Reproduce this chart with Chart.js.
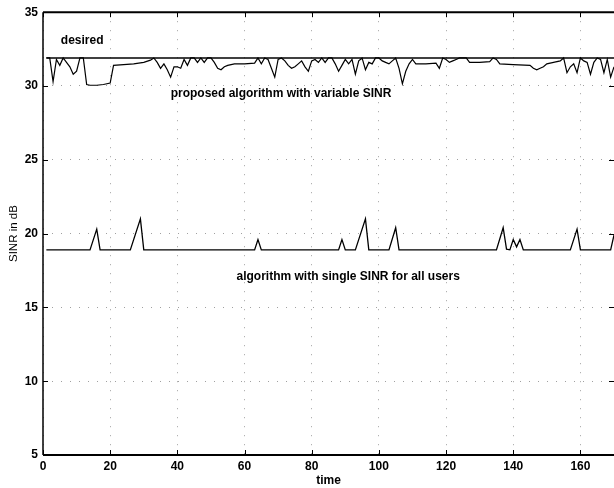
<!DOCTYPE html>
<html>
<head>
<meta charset="utf-8">
<script src="https://cdn.jsdelivr.net/npm/chart.js@4/dist/chart.umd.min.js"></script>
<style>
  html, body { margin: 0; padding: 0; background: #fff; }
  #wrap { width: 614px; height: 488px; position: relative; }
</style>
</head>
<body>
<div id="wrap"><canvas id="c"></canvas></div>
<script>
/* SINR vs time — scanned MATLAB figure redrawn */

var X_TICKS = [0, 20, 40, 60, 80, 100, 120, 140, 160];
var Y_TICKS = [5, 10, 15, 20, 25, 30, 35];

var tDesired = [1, 170];
var sinrDesired = [31.9, 31.9];

var tProposed = [1, 2, 3, 4, 5, 6, 7, 8, 9, 10, 11, 12, 13, 14, 16, 18, 20, 21, 24, 27, 30, 32, 33, 34, 35, 36, 37, 38, 39, 40,
  41, 42, 43, 44, 45, 46, 47, 48, 49, 50, 51, 52, 53, 54, 55, 57, 60, 63, 64, 65, 66, 67, 68, 69, 70, 71, 72, 73, 74, 75,
  76, 77, 78, 79, 80, 81, 82, 83, 84, 85, 86, 87, 88, 89, 90, 91, 92, 93, 94, 95, 96, 97, 98, 99, 100, 101, 102, 103, 104, 105,
  106, 107, 108, 109, 110, 111, 114, 117, 118, 119, 120, 121, 122, 123, 124, 125, 126, 127, 130, 133, 134, 135, 136, 140, 145, 146, 147, 148, 149, 150,
  152, 154, 155, 156, 157, 158, 159, 160, 161, 162, 163, 164, 165, 166, 167, 168, 169, 170];
var sinrProposed = [31.9, 31.9, 30.3, 31.8, 31.4, 31.9, 31.6, 31.3, 30.8, 31.0, 31.9, 31.9, 30.1, 30.05, 30.05, 30.1, 30.2, 31.4, 31.45, 31.5, 31.6, 31.75, 31.9, 31.6, 31.2, 31.5, 31.1, 30.6, 31.3, 31.3,
  31.2, 31.8, 31.4, 31.9, 31.9, 31.6, 31.9, 31.6, 31.9, 31.9, 31.6, 31.2, 31.1, 31.3, 31.4, 31.5, 31.5, 31.55, 31.9, 31.5, 31.9, 31.8, 31.2, 30.6, 31.8, 31.9, 31.7, 31.4, 31.2, 31.3,
  31.5, 31.7, 31.3, 31.0, 31.7, 31.8, 31.6, 31.9, 31.6, 31.9, 31.9, 31.5, 31.0, 31.4, 31.8, 31.5, 31.8, 30.8, 31.7, 31.9, 31.1, 31.6, 31.5, 31.9, 31.9, 31.7, 31.6, 31.5, 31.7, 31.9,
  31.2, 30.15, 31.0, 31.5, 31.8, 31.5, 31.5, 31.55, 31.2, 31.9, 31.8, 31.6, 31.7, 31.8, 31.9, 31.9, 31.9, 31.6, 31.6, 31.65, 31.9, 31.8, 31.5, 31.45, 31.4, 31.2, 31.1, 31.2, 31.3, 31.5,
  31.6, 31.7, 31.9, 30.9, 31.3, 31.5, 30.9, 31.9, 31.7, 31.6, 30.8, 31.6, 31.9, 31.8, 30.9, 31.8, 30.6, 31.3];

var tSingle = [1, 14, 16, 17, 26, 29, 30, 63, 64, 65, 88, 89, 90, 93, 96, 97, 103, 105, 106,
  135, 137, 138, 139, 140, 141, 142, 143, 157, 159, 160, 169, 170];
var sinrSingle = [18.9, 18.9, 20.3, 18.9, 18.9, 21.0, 18.9, 18.9, 19.6, 18.9, 18.9, 19.6, 18.9, 18.9, 21.0, 18.9, 18.9, 20.4, 18.9,
  18.9, 20.4, 18.95, 18.9, 19.6, 19.1, 19.6, 18.9, 18.9, 20.3, 18.9, 18.9, 19.9];

// text annotations, placed in data units
var noteText = ['desired', 'proposed algorithm with variable SINR', 'algorithm with single SINR for all users'];
var noteX = [5.3, 38, 57.6];
var noteY = [33.05, 29.45, 17.1];

var FONT = "'Liberation Sans', Arial, sans-serif";
Chart.defaults.font.family = FONT;
Chart.defaults.color = '#000';

function pts(xs, ys) {
  return xs.map(function(x, i) { return { x: x, y: ys[i] }; });
}

function lineSet(label, xs, ys, w) {
  return { label: label, data: pts(xs, ys), borderColor: '#000', borderWidth: w, pointRadius: 0, fill: false, tension: 0 };
}

/* frame, inward ticks and text notes */
var framePlugin = {
  id: 'frame',
  afterDraw: function(chart) {
    var ctx = chart.ctx, a = chart.chartArea;
    var xs = chart.scales.x, ys = chart.scales.y;
    ctx.save();
    ctx.strokeStyle = '#000';
    ctx.lineWidth = 2;
    ctx.beginPath();
    ctx.moveTo(a.left, a.top); ctx.lineTo(a.right, a.top);
    ctx.moveTo(a.left, a.bottom); ctx.lineTo(a.right, a.bottom);
    ctx.stroke();
    ctx.lineWidth = 1.5;
    ctx.beginPath();
    ctx.moveTo(a.left, a.top); ctx.lineTo(a.left, a.bottom);
    ctx.stroke();
    ctx.lineWidth = 1;
    ctx.beginPath();
    X_TICKS.forEach(function(v) {
      var p = Math.round(xs.getPixelForValue(v)) + 0.5;
      ctx.moveTo(p, a.bottom); ctx.lineTo(p, a.bottom - 5);
      ctx.moveTo(p, a.top); ctx.lineTo(p, a.top + 5);
    });
    Y_TICKS.forEach(function(v) {
      var p = Math.round(ys.getPixelForValue(v)) + 0.5;
      ctx.moveTo(a.left, p); ctx.lineTo(a.left + 5, p);
      ctx.moveTo(a.right, p); ctx.lineTo(a.right - 5, p);
    });
    ctx.stroke();
    ctx.fillStyle = '#000';
    ctx.font = 'bold 12px ' + FONT;
    ctx.textAlign = 'left';
    ctx.textBaseline = 'middle';
    noteText.forEach(function(t, i) {
      ctx.fillText(t, xs.getPixelForValue(noteX[i]), ys.getPixelForValue(noteY[i]));
    });
    ctx.restore();
  }
};

new Chart(document.getElementById('c'), {
  type: 'line',
  data: {
    datasets: [
      lineSet('desired', tDesired, sinrDesired, 1.6),
      lineSet('proposed algorithm with variable SINR', tProposed, sinrProposed, 1.2),
      lineSet('algorithm with single SINR for all users', tSingle, sinrSingle, 1.3)
    ]
  },
  options: {
    responsive: true, maintainAspectRatio: false, animation: false,
    layout: { padding: { top: 11, right: 0, left: 0, bottom: 0 } },
    plugins: { legend: { display: false }, tooltip: { enabled: false } },
    scales: {
      x: {
        type: 'linear', min: 0, max: 170,
        afterBuildTicks: function(s) { s.ticks = X_TICKS.map(function(v) { return { value: v }; }); },
        afterFit: function(s) { s.height = 33; },
        ticks: { padding: 4, maxRotation: 0, font: { size: 12, weight: 'bold' } },
        grid: { drawTicks: false, color: '#a0a0a0', lineWidth: 1 },
        border: { display: false, dash: [1, 8] },
        title: { display: true, text: 'time', padding: 0, font: { size: 12, weight: 'bold' } }
      },
      y: {
        min: 5, max: 35,
        afterBuildTicks: function(s) { s.ticks = Y_TICKS.map(function(v) { return { value: v }; }); },
        afterFit: function(s) { s.width = 43; },
        ticks: { padding: 5, font: { size: 12, weight: 'bold' } },
        grid: { drawTicks: false, color: '#a0a0a0', lineWidth: 1 },
        border: { display: false, dash: [1, 8] },
        title: { display: true, text: 'SINR in dB', padding: { top: 7, bottom: 0 }, font: { size: 11.5 } }
      }
    }
  },
  plugins: [framePlugin]
});
</script>
</body>
</html>
